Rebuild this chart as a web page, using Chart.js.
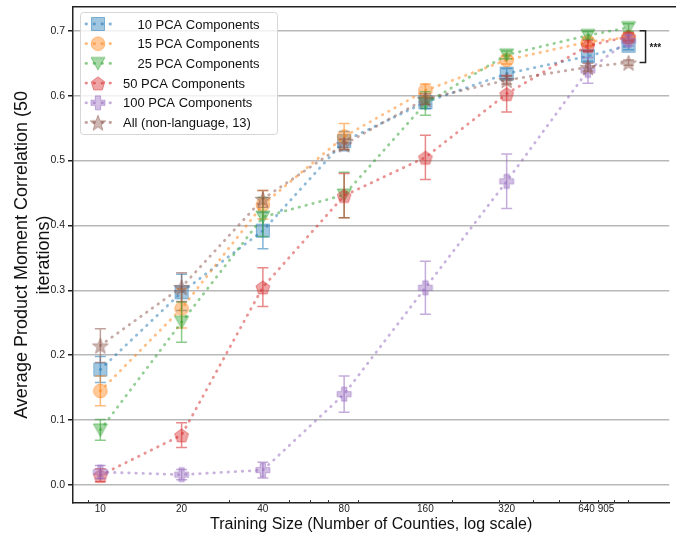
<!DOCTYPE html>
<html>
<head>
<meta charset="utf-8">
<script src="https://cdn.jsdelivr.net/npm/chart.js@4.4.1/dist/chart.umd.min.js"></script>
<style>
  html, body { margin: 0; padding: 0; background: #fff; }
</style>
</head>
<body>
<canvas id="pcaChart" width="676" height="537"></canvas>
<script>
// training sizes (x, log scale)
const trainingSizes = [10, 20, 40, 80, 160, 320, 640, 905];

const seriesLabels = [
  '    10 PCA Components',
  '    15 PCA Components',
  '    25 PCA Components',
  '50 PCA Components',
  '100 PCA Components',
  'All (non-language, 13)'
];

// mean correlation per training size
const pca10 = [0.178, 0.297, 0.392, 0.530, 0.590, 0.634, 0.661, 0.677];
const pca15 = [0.145, 0.272, 0.432, 0.537, 0.608, 0.655, 0.683, 0.690];
const pca25 = [0.085, 0.251, 0.413, 0.447, 0.588, 0.663, 0.693, 0.705];
const pca50 = [0.015, 0.077, 0.305, 0.446, 0.505, 0.603, 0.677, 0.691];
const pca100 = [0.020, 0.016, 0.023, 0.140, 0.304, 0.468, 0.639, 0.685];
const allFeatures = [0.215, 0.305, 0.441, 0.525, 0.595, 0.624, 0.644, 0.651];

// error bar half-widths
const pca10Err = [0.020, 0.028, 0.028, 0.015, 0.010, 0.008, 0.008, 0.006];
const pca15Err = [0.023, 0.030, 0.022, 0.020, 0.010, 0.006, 0.006, 0.005];
const pca25Err = [0.016, 0.031, 0.030, 0.035, 0.018, 0.006, 0.006, 0.006];
const pca50Err = [0.010, 0.019, 0.030, 0.034, 0.034, 0.028, 0.008, 0.006];
const pca100Err = [0.010, 0.008, 0.012, 0.028, 0.041, 0.042, 0.020, 0.008];
const allFeaturesErr = [0.026, 0.022, 0.013, 0.008, 0.008, 0.006, 0.006, 0.004];

const yTicks = [0.0, 0.1, 0.2, 0.3, 0.4, 0.5, 0.6, 0.7];
const xMajorTicks = [10, 20, 40, 80, 160, 320, 640];
const xTickLabels = ['10', '20', '40', '80', '160', '320', '      640 905'];
const xMinorTicks = [9, 30, 50, 60, 70, 90, 200, 300, 400, 500, 600, 700, 800, 900];

// significance bracket between the top and bottom series at 905
const bracketValues = [0.700, 0.651];

const colors = ['31,119,180', '255,127,14', '44,160,44', '214,39,40', '148,103,189', '140,86,75'];
const shapes = ['square', 'circle', 'triangleDown', 'pentagon', 'plus', 'star'];

Chart.defaults.font.family = '"Liberation Sans", Arial, sans-serif';

function makeMarker(shape, rgb) {
  const c = document.createElement('canvas');
  c.width = 18; c.height = 18;
  const g = c.getContext('2d');
  const cx = 9, cy = 9;
  g.beginPath();
  if (shape === 'square') {
    g.rect(2.5, 2.5, 13, 13);
  } else if (shape === 'circle') {
    g.arc(cx, cy, 6.8, 0, Math.PI * 2);
  } else if (shape === 'triangleDown') {
    g.moveTo(2, 3); g.lineTo(16, 3); g.lineTo(9, 15.5); g.closePath();
  } else if (shape === 'pentagon') {
    for (let k = 0; k < 5; k++) {
      const a = -Math.PI / 2 + k * 2 * Math.PI / 5;
      g.lineTo(cx + 7.2 * Math.cos(a), cy + 1 + 7.2 * Math.sin(a));
    }
    g.closePath();
  } else if (shape === 'plus') {
    const w = 2.6, l = 7;
    g.moveTo(cx - w, cy - l); g.lineTo(cx + w, cy - l); g.lineTo(cx + w, cy - w);
    g.lineTo(cx + l, cy - w); g.lineTo(cx + l, cy + w); g.lineTo(cx + w, cy + w);
    g.lineTo(cx + w, cy + l); g.lineTo(cx - w, cy + l); g.lineTo(cx - w, cy + w);
    g.lineTo(cx - l, cy + w); g.lineTo(cx - l, cy - w); g.lineTo(cx - w, cy - w);
    g.closePath();
  } else if (shape === 'star') {
    for (let k = 0; k < 10; k++) {
      const a = -Math.PI / 2 + k * Math.PI / 5;
      const r = k % 2 === 0 ? 8.2 : 3.4;
      g.lineTo(cx + r * Math.cos(a), cy + 1 + r * Math.sin(a));
    }
    g.closePath();
  }
  g.fillStyle = 'rgba(' + rgb + ',0.42)';
  g.fill();
  g.lineWidth = 1;
  g.strokeStyle = 'rgba(' + rgb + ',0.5)';
  g.stroke();
  return c;
}

const means = [pca10, pca15, pca25, pca50, pca100, allFeatures];
const errs = [pca10Err, pca15Err, pca25Err, pca50Err, pca100Err, allFeaturesErr];
const markers = shapes.map((s, i) => makeMarker(s, colors[i]));

const datasets = means.map((vals, i) => ({
  label: seriesLabels[i],
  data: trainingSizes.map((x, j) => ({ x: x, y: vals[j] })),
  errors: errs[i],
  errColor: 'rgba(' + colors[i] + ',0.55)',
  borderColor: 'rgba(' + colors[i] + ',0.5)',
  borderWidth: 2.8,
  borderDash: [0.5, 6.6],
  borderCapStyle: 'round',
  fill: false,
  tension: 0,
  pointStyle: markers[i],
  order: 5 - i
}));

const errorBars = {
  id: 'errorBars',
  afterDatasetDraw(chart, args) {
    const ds = chart.data.datasets[args.index];
    const xs = chart.scales.x, ys = chart.scales.y;
    const ctx = chart.ctx;
    ctx.save();
    ctx.strokeStyle = ds.errColor;
    ctx.lineWidth = 1.5;
    ds.data.forEach((p, i) => {
      const e = ds.errors[i];
      const px = xs.getPixelForValue(p.x);
      const top = ys.getPixelForValue(p.y + e);
      const bot = ys.getPixelForValue(p.y - e);
      ctx.beginPath();
      ctx.moveTo(px, top); ctx.lineTo(px, bot);
      ctx.moveTo(px - 5.5, top); ctx.lineTo(px + 5.5, top);
      ctx.moveTo(px - 5.5, bot); ctx.lineTo(px + 5.5, bot);
      ctx.stroke();
    });
    ctx.restore();
  }
};

const extras = {
  id: 'extras',
  afterDraw(chart) {
    const ctx = chart.ctx;
    const area = chart.chartArea;
    const xs = chart.scales.x, ys = chart.scales.y;
    ctx.save();
    // top frame line
    ctx.strokeStyle = '#222';
    ctx.lineWidth = 1.5;
    ctx.beginPath();
    ctx.moveTo(area.left, area.top);
    ctx.lineTo(chart.width, area.top);
    ctx.stroke();

    // small minor tick marks sitting on the x axis
    ctx.lineWidth = 1;
    ctx.strokeStyle = '#333';
    ctx.beginPath();
    xMinorTicks.forEach(v => {
      const px = Math.round(xs.getPixelForValue(v)) + 0.5;
      ctx.moveTo(px, area.bottom - 3);
      ctx.lineTo(px, area.bottom);
    });
    ctx.stroke();

    // bracket with stars
    const bx = xs.getPixelForValue(905) + 17;
    const by1 = ys.getPixelForValue(bracketValues[0]);
    const by2 = ys.getPixelForValue(bracketValues[1]);
    ctx.lineWidth = 1.5;
    ctx.strokeStyle = '#222';
    ctx.beginPath();
    ctx.moveTo(bx - 6, by1); ctx.lineTo(bx, by1); ctx.lineTo(bx, by2); ctx.lineTo(bx - 6, by2);
    ctx.stroke();
    ctx.fillStyle = '#222';
    ctx.font = 'bold 10px "Liberation Sans", Arial, sans-serif';
    ctx.textBaseline = 'middle';
    ctx.fillText('***', bx + 4, (by1 + by2) / 2 + 2);

    // legend
    const lx = 80.5, ly = 12.5, lw = 197, lh = 122;
    ctx.beginPath();
    ctx.roundRect(lx, ly, lw, lh, 3);
    ctx.fillStyle = 'rgba(255,255,255,0.8)';
    ctx.fill();
    ctx.strokeStyle = '#d6d6d6';
    ctx.lineWidth = 1;
    ctx.stroke();
    ctx.font = '13px "Liberation Sans", Arial, sans-serif';
    seriesLabels.forEach((lab, i) => {
      const ry = 24 + i * 19.7;
      ctx.save();
      ctx.strokeStyle = 'rgba(' + colors[i] + ',0.55)';
      ctx.lineWidth = 2.8;
      ctx.lineCap = 'round';
      ctx.setLineDash([0.5, 7.5]);
      ctx.beginPath();
      ctx.moveTo(86, ry); ctx.lineTo(111, ry);
      ctx.stroke();
      ctx.restore();
      ctx.drawImage(markers[i], 98 - 9, ry - 9);
      ctx.fillStyle = '#111';
      ctx.textBaseline = 'middle';
      ctx.fillText(lab, 123, ry + 1);
    });
    ctx.restore();
  }
};

new Chart(document.getElementById('pcaChart').getContext('2d'), {
  type: 'line',
  data: { datasets: datasets },
  plugins: [errorBars, extras],
  options: {
    responsive: false,
    animation: false,
    devicePixelRatio: 1,
    layout: { padding: { top: 6, right: 0, bottom: 0, left: 0 } },
    plugins: {
      legend: { display: false },
      tooltip: { enabled: false }
    },
    scales: {
      x: {
        type: 'logarithmic',
        min: 7.92,
        max: 1280,
        afterBuildTicks: s => { s.ticks = xMajorTicks.map(v => ({ value: v })); },
        afterFit: s => { s.height = 34; s.paddingLeft = 0; s.paddingRight = 0; },
        ticks: {
          autoSkip: false,
          maxRotation: 0,
          minRotation: 0,
          padding: 0,
          font: { size: 10 },
          color: '#222',
          callback: v => {
            const k = xMajorTicks.indexOf(v);
            return k >= 0 ? xTickLabels[k] : '';
          }
        },
        grid: { drawOnChartArea: false, drawTicks: false },
        border: { display: true, color: '#222', width: 1.5 },
        title: {
          display: true,
          text: 'Training Size (Number of Counties, log scale)',
          font: { size: 16 },
          color: '#111',
          padding: { top: 0, bottom: 3 }
        }
      },
      y: {
        min: -0.0277,
        max: 0.737,
        afterBuildTicks: s => { s.ticks = yTicks.map(v => ({ value: v })); },
        afterFit: s => { s.width = 73; s.paddingTop = 0; s.paddingBottom = 0; },
        ticks: {
          font: { size: 10.5 },
          color: '#222',
          padding: 3,
          callback: v => v.toFixed(1)
        },
        grid: { color: '#b8b8b8', lineWidth: 1.5, drawTicks: true, tickLength: 5, tickColor: '#222' },
        border: { display: true, color: '#222', width: 1.5 },
        title: {
          display: true,
          text: ['Average Product Moment Correlation (50', 'iterations)'],
          font: { size: 18, lineHeight: 1.22 },
          color: '#111',
          padding: { top: 11, bottom: 0 }
        }
      }
    }
  }
});
</script>
</body>
</html>
